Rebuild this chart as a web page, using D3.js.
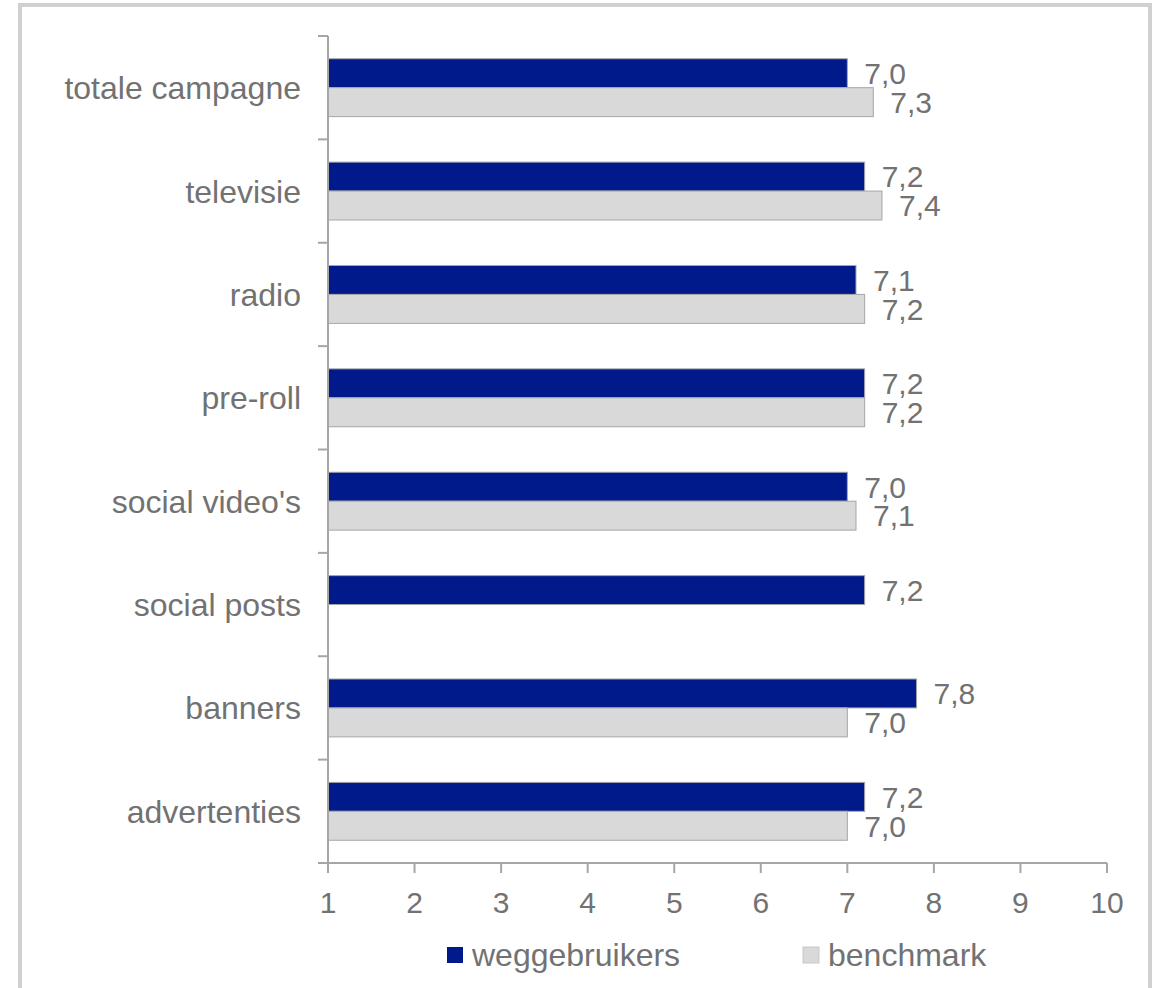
<!DOCTYPE html>
<html>
<head>
<meta charset="utf-8">
<script src="https://cdn.jsdelivr.net/npm/d3@7"></script>
<style>
  body { margin: 0; background: #fff; }
  text { font-family: "Liberation Sans", Arial, sans-serif; fill: #727272; }
</style>
</head>
<body>
<div class="chart"></div>
<script>
const categories = ["totale campagne", "televisie", "radio", "pre-roll", "social video's", "social posts", "banners", "advertenties"];
const weggebruikers = [7.0, 7.2, 7.1, 7.2, 7.0, 7.2, 7.8, 7.2];
const benchmark = [7.3, 7.4, 7.2, 7.2, 7.1, null, 7.0, 7.0];
const xTicks = [1, 2, 3, 4, 5, 6, 7, 8, 9, 10];
const seriesNames = ["weggebruikers", "benchmark"];
const seriesColors = ["#001a8c", "#d9d9d9"];

const W = 1158, H = 988;
const margin = {top: 36, right: 51, bottom: 125, left: 328};

const svg = d3.select(".chart").append("svg")
    .attr("width", W)
    .attr("height", H);

// outer frame (no bottom edge, cut off in the reference)
svg.append("path")
    .attr("d", `M20,${H} V5 H1150 V${H}`)
    .attr("fill", "none")
    .attr("stroke", "#d0d0d0")
    .attr("stroke-width", 4);

const x = d3.scaleLinear()
    .domain([1, 10])
    .range([margin.left, W - margin.right]);

const y = d3.scaleBand()
    .domain(categories)
    .range([margin.top, H - margin.bottom]);

const barH = y.bandwidth() * 0.28;

const rows = categories.map((c, i) => ({cat: c, vals: [weggebruikers[i], benchmark[i]]}));

const g = svg.selectAll(".row")
    .data(rows)
    .join("g")
    .attr("class", "row")
    .attr("transform", d => `translate(0,${y(d.cat) + y.bandwidth() / 2 - barH})`);

g.selectAll("rect")
    .data(d => d.vals.map((v, k) => ({v, k})).filter(e => e.v !== null))
    .join("rect")
    .attr("x", x(1))
    .attr("y", e => e.k * barH)
    .attr("width", e => x(e.v) - x(1))
    .attr("height", barH)
    .attr("fill", e => seriesColors[e.k])
    .attr("stroke", "#a6a6a6")
    .attr("stroke-width", 1);

g.selectAll(".val")
    .data(d => d.vals.map((v, k) => ({v, k})).filter(e => e.v !== null))
    .join("text")
    .attr("class", "val")
    .attr("x", e => x(e.v) + 17)
    .attr("y", e => e.k * barH + barH / 2)
    .attr("dy", "0.36em")
    .style("font-size", "30px")
    .text(e => d3.format(".1f")(e.v).replace(".", ","));

// y axis
const yAxis = svg.append("g");
yAxis.append("line")
    .attr("x1", x(1)).attr("x2", x(1))
    .attr("y1", margin.top).attr("y2", H - margin.bottom)
    .attr("stroke", "#a6a6a6").attr("stroke-width", 2);
yAxis.selectAll(".ytick")
    .data(categories.concat([null]))
    .join("line")
    .attr("x1", x(1) - 10).attr("x2", x(1))
    .attr("y1", (d, i) => margin.top + i * y.step())
    .attr("y2", (d, i) => margin.top + i * y.step())
    .attr("stroke", "#a6a6a6").attr("stroke-width", 2);
yAxis.selectAll(".ylab")
    .data(categories)
    .join("text")
    .attr("x", x(1) - 27)
    .attr("y", d => y(d) + y.bandwidth() / 2)
    .attr("dy", "0.36em")
    .attr("text-anchor", "end")
    .style("font-size", "32px")
    .text(d => d);

// x axis
const xAxis = svg.append("g");
const axisY = H - margin.bottom;
xAxis.append("line")
    .attr("x1", x(1)).attr("x2", x(10))
    .attr("y1", axisY).attr("y2", axisY)
    .attr("stroke", "#a6a6a6").attr("stroke-width", 2);
xAxis.selectAll(".xtick")
    .data(xTicks)
    .join("line")
    .attr("x1", d => x(d)).attr("x2", d => x(d))
    .attr("y1", axisY).attr("y2", axisY + 10)
    .attr("stroke", "#a6a6a6").attr("stroke-width", 2);
xAxis.selectAll(".xlab")
    .data(xTicks)
    .join("text")
    .attr("x", d => x(d))
    .attr("y", axisY + 50)
    .attr("text-anchor", "middle")
    .style("font-size", "30px")
    .text(d => d);

// legend
const legendX = [447, 803];
const legend = svg.selectAll(".legend")
    .data(seriesNames)
    .join("g")
    .attr("class", "legend")
    .attr("transform", (d, i) => `translate(${legendX[i]},947)`);
legend.append("rect")
    .attr("width", 16).attr("height", 16)
    .attr("fill", (d, i) => seriesColors[i])
    .attr("stroke", (d, i) => i === 1 ? "#c8c8c8" : "none");
legend.append("text")
    .attr("x", 25)
    .attr("y", 19)
    .style("font-size", "32px")
    .text(d => d);
</script>
</body>
</html>
